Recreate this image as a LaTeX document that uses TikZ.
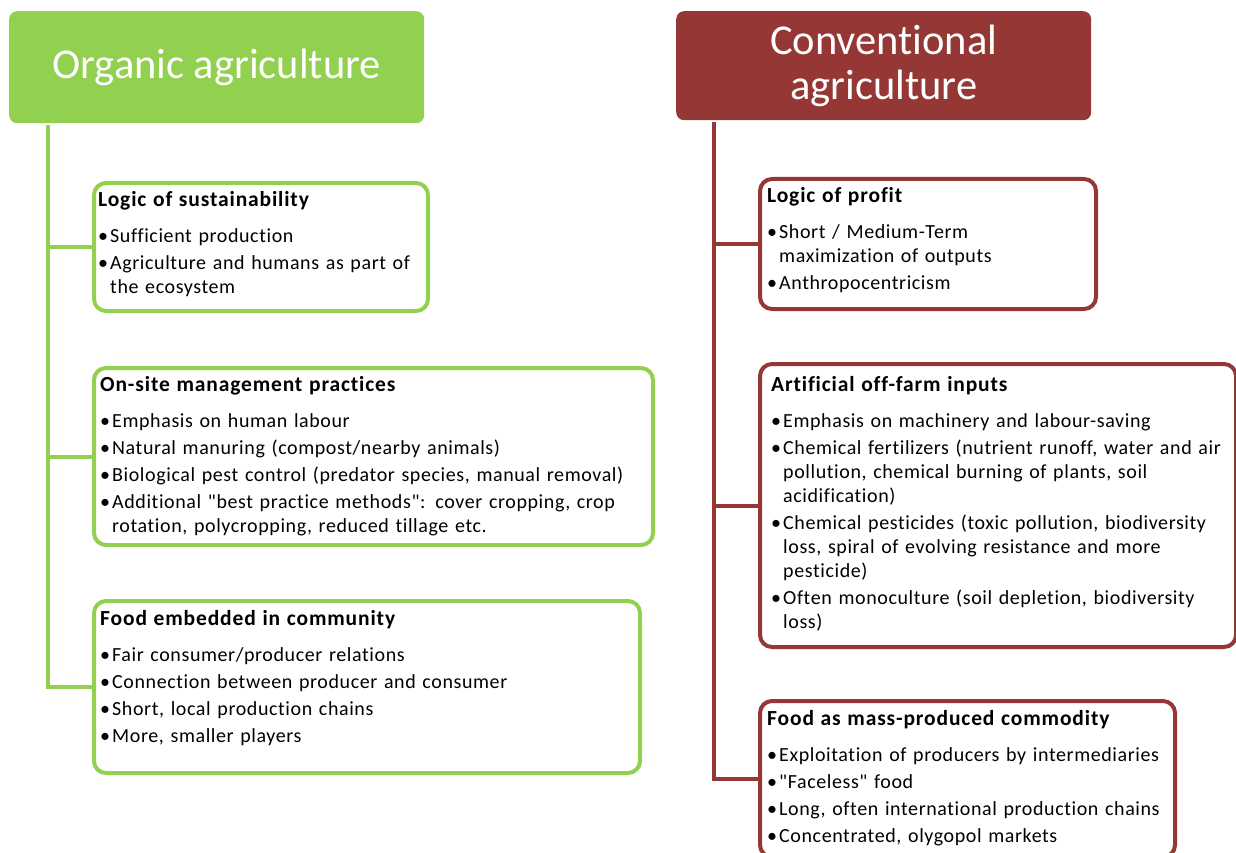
\documentclass[tikz,border=0pt]{standalone}
\usepackage{fontspec}
\setmainfont{Carlito}[Ligatures={TeXOff,CommonOff}]
\usepackage{xcolor}
\usetikzlibrary{positioning}

\definecolor{orggreen}{HTML}{92D050}
\definecolor{convred}{HTML}{953735}

% heading line and bullet entries inside a card
\newcommand{\cardhead}[1]{\noindent{\bfseries\fontsize{21.5}{24}\selectfont\addfontfeature{LetterSpace=4}#1\par}\vspace{12pt}}
\newcommand{\itm}[1]{\par\noindent\hangindent=12pt\hangafter=1\makebox[12pt][l]{\textbullet}#1\par\vspace{3pt}}

\begin{document}
\begin{tikzpicture}[x=1pt, y=-1pt,
                trunk/.style={line width=4pt},
                >=latex]
        \tikzset{
                head/.style     = {rounded corners=8pt, text=white, align=center, anchor=north west,
                                inner sep=0pt, font=\fontsize{42.5}{45}\selectfont},
                card/.style     = {draw, line width=4pt, rounded corners=12pt, fill=white,
                                anchor=north west, inner sep=0pt},
                cardtext/.style = {inner sep=0pt, text width=#1, align=left,
                                font=\fontsize{20}{24}\selectfont\addfontfeature{LetterSpace=3}}
        }
        \useasboundingbox (0,0) rectangle (1236,853);
        \clip (0,0) rectangle (1236,853);

        % the two column headers
        \node[head, fill=orggreen, minimum width=415pt, minimum height=112pt] (org) at (9,11) {Organic agriculture};
        \node[head, fill=convred, minimum width=415pt, minimum height=109pt] (conv) at (676,11) {Conventional\\agriculture};

        % Organic cards
        \begin{scope}[every node/.append style={draw=orggreen}]
                \node[card, minimum width=334pt, minimum height=128pt] (o1) at (92,181) {};
                \node[card, minimum width=559pt, minimum height=177pt] (o2) at (92,366) {};
                \node[card, minimum width=546pt, minimum height=172pt] (o3) at (92,599) {};
        \end{scope}

        % Conventional cards
        \begin{scope}[every node/.append style={draw=convred}]
                \node[card, minimum width=336pt, minimum height=130pt] (r1) at (758,177) {};
                \node[card, minimum width=476pt, minimum height=283pt] (r2) at (758,362) {};
                \node[card, minimum width=415pt, minimum height=156pt] (r3) at (758,699) {};
        \end{scope}

        % trunks from each header to its cards
        \foreach \c in {o1,o2,o3}
                \draw[trunk, orggreen] ([xshift=39pt,yshift=-2pt]org.south west) |- (\c.west);
        \foreach \c in {r1,r2,r3}
                \draw[trunk, convred] ([xshift=38pt,yshift=-2pt]conv.south west) |- (\c.west);

        % card contents
        \node[cardtext=600pt] (o1t) [below right=10pt and 6pt of o1.north west] {%
                \cardhead{Logic of sustainability}
                \itm{Sufficient production}
                \itm{Agriculture and humans as part of\newline the ecosystem}};
        \node[cardtext=600pt] (o2t) [below right=10pt and 8pt of o2.north west] {%
                \cardhead{On-site management practices}
                \itm{Emphasis on human labour}
                \itm{Natural manuring (compost/nearby animals)}
                \itm{Biological pest control (predator species, manual removal)}
                \itm{Additional "best practice methods": cover cropping, crop\newline rotation, polycropping, reduced tillage etc.}};
        \node[cardtext=600pt] (o3t) [below right=11pt and 8pt of o3.north west] {%
                \cardhead{Food embedded in community}
                \itm{Fair consumer/producer relations}
                \itm{Connection between producer and consumer}
                \itm{Short, local production chains}
                \itm{More, smaller players}};

        \node[cardtext=600pt] (r1t) [below right=10pt and 9pt of r1.north west] {%
                \cardhead{Logic of profit}
                \itm{Short / Medium-Term\newline maximization of outputs}
                \itm{Anthropocentricism}};
        \node[cardtext=600pt] (r2t) [below right=14pt and 13pt of r2.north west] {%
                \cardhead{Artificial off-farm inputs}
                \itm{Emphasis on machinery and labour-saving}
                \itm{Chemical fertilizers (nutrient runoff, water and air\newline pollution, chemical burning of plants, soil\newline acidification)}
                \itm{Chemical pesticides (toxic pollution, biodiversity\newline loss, spiral of evolving resistance and more\newline pesticide)}
                \itm{Often monoculture (soil depletion, biodiversity\newline loss)}};
        \node[cardtext=600pt] (r3t) [below right=11pt and 9pt of r3.north west] {%
                \cardhead{Food as mass-produced commodity}
                \itm{Exploitation of producers by intermediaries}
                \itm{"Faceless" food}
                \itm{Long, often international production chains}
                \itm{Concentrated, olygopol markets}};
\end{tikzpicture}
\end{document}
